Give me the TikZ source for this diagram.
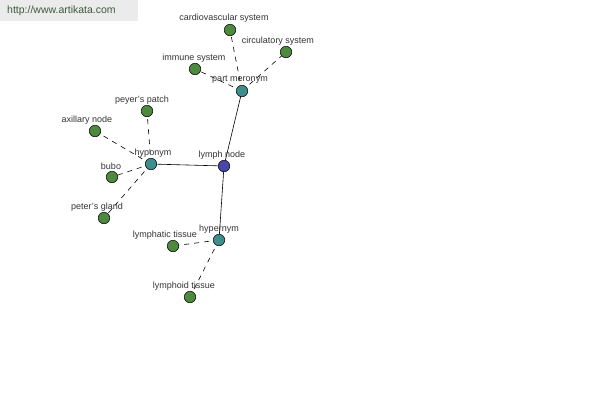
\documentclass[tikz,border=0pt]{standalone}
\usepackage{fontspec}
\setmainfont{Liberation Sans}
\usetikzlibrary{backgrounds}
\definecolor{leafc}{HTML}{4E8A3E}
\definecolor{catc}{HTML}{3E8E8E}
\definecolor{rootc}{HTML}{4848A8}
\definecolor{labc}{HTML}{333333}
\definecolor{bannerc}{HTML}{EBEBEB}
\definecolor{urlc}{HTML}{3C5A3C}
\begin{document}
\begin{tikzpicture}[x=1pt,y=-1pt,
  dot/.style={circle,draw=black,line width=0.5pt,minimum size=11.5pt,inner sep=0pt},
  leaf/.style={dot,fill=leafc},
  cat/.style={dot,fill=catc},
  root/.style={dot,fill=rootc},
  lab/.style={font=\fontsize{9}{10}\selectfont,text=labc,inner sep=0pt},
  solidedge/.style={draw=black,line width=0.6pt},
  dashedge/.style={draw=black,line width=0.6pt,dash pattern=on 5pt off 5pt}]
\useasboundingbox (0,0) rectangle (600,400);
\node[leaf] (cs) at (230,30) {};
\node[leaf] (circ) at (286,52) {};
\node[leaf] (imm) at (195,69) {};
\node[leaf] (pp) at (147,111) {};
\node[leaf] (ax) at (95,131) {};
\node[leaf] (bubo) at (112,177) {};
\node[leaf] (pg) at (104,218) {};
\node[leaf] (lt) at (173,246) {};
\node[leaf] (lyt) at (190,297) {};
\node[root] (ln) at (224,166) {};
\node[cat] (pm) at (242,91) {};
\node[cat] (ho) at (151,164) {};
\node[cat] (he) at (219,240) {};
\begin{scope}[on background layer]
\fill[white] (0,0) rectangle (600,400);
\fill[bannerc] (0,0) rectangle (138,21);
\path[solidedge] (ln.center) -- (pm.center);
\path[solidedge] (ln.center) -- (ho.center);
\path[solidedge] (ln.center) -- (he.center);
\path[dashedge] (pm.center) -- (cs.center);
\path[dashedge] (pm.center) -- (circ.center);
\path[dashedge] (pm.center) -- (imm.center);
\path[dashedge] (ho.center) -- (pp.center);
\path[dashedge] (ho.center) -- (ax.center);
\path[dashedge] (ho.center) -- (bubo.center);
\path[dashedge] (ho.center) -- (pg.center);
\path[dashedge] (he.center) -- (lt.center);
\path[dashedge] (he.center) -- (lyt.center);
\end{scope}
\node[font=\fontsize{10.5}{12}\selectfont,text=urlc,anchor=west,inner sep=0pt] (url) at (7,11) {http://www.artikata.com};
% labels
\node[lab] (lcs) at (224,18) {cardiovascular system};
\node[lab] (lcirc) at (278,41) {circulatory system};
\node[lab] (limm) at (194,58) {immune system};
\node[lab] (lpm) at (240,80) {part meronym};
\node[lab] (lpp) at (142,100) {peyer's patch};
\node[lab] (lax) at (87,120) {axillary node};
\node[lab] (lho) at (153,153) {hyponym};
\node[lab] (lln) at (222,155) {lymph node};
\node[lab] (lbubo) at (111,166) {bubo};
\node[lab] (lpg) at (97,207) {peter's gland};
\node[lab] (lhe) at (219,229) {hypernym};
\node[lab] (llt) at (165,235) {lymphatic tissue};
\node[lab] (llyt) at (184,286) {lymphoid tissue};
\end{tikzpicture}
\end{document}
